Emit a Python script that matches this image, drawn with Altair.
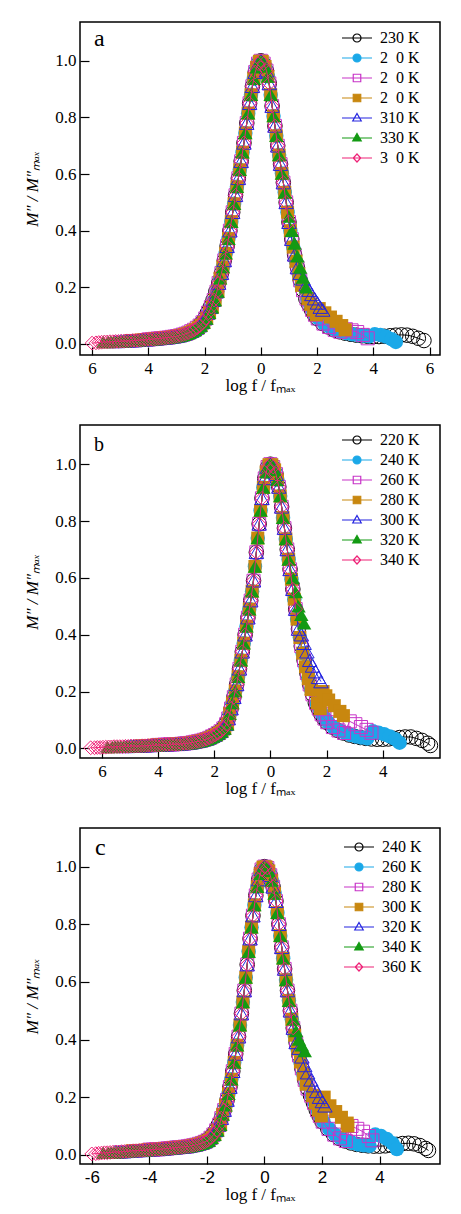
import altair as alt
import pandas as pd

# ---------------- shared grids (log f / f_max) ----------------
LEFT_X = [-6.4, -6.3, -6.2, -6.1, -6.0, -5.9, -5.8, -5.7, -5.6, -5.5, -5.4, -5.3,
          -5.2, -5.1, -5.0, -4.9, -4.8, -4.7, -4.6, -4.5, -4.4, -4.3, -4.2, -4.1,
          -4.0, -3.9, -3.8, -3.7, -3.6, -3.5, -3.4, -3.3, -3.2, -3.1, -3.0, -2.9,
          -2.8, -2.7, -2.6, -2.5, -2.4, -2.3, -2.2, -2.1,
          -2.0, -1.9, -1.8, -1.7, -1.6,
          -1.5, -1.45, -1.4, -1.35, -1.3, -1.25, -1.2, -1.15, -1.1, -1.05, -1.0,
          -0.95, -0.9, -0.85, -0.8, -0.75, -0.7, -0.65, -0.6, -0.55, -0.5,
          -0.45, -0.4, -0.35, -0.3, -0.25, -0.2, -0.15, -0.1, -0.05, 0.0]
RIGHT_X = [0.05, 0.1, 0.15, 0.2, 0.25, 0.3, 0.35, 0.4, 0.45, 0.5,
           0.55, 0.6, 0.65, 0.7, 0.75, 0.8, 0.85, 0.9, 0.95, 1.0,
           1.05, 1.1, 1.15, 1.2, 1.25, 1.3, 1.35, 1.4, 1.45, 1.5,
           1.6, 1.7, 1.8, 1.9, 2.0,
           2.2, 2.4, 2.6, 2.8, 3.0, 3.2, 3.4, 3.6, 3.8, 4.0,
           4.2, 4.4, 4.6, 4.8, 5.0, 5.2, 5.4, 5.6, 5.8]
FINE_LIMIT = 1.5      # within |x| <= 1.5 the temperatures alternate between grid points
X_SHIFT = [0.0, 0.05, 0.025, 0.075, 0.0125, 0.0625, 0.0375]

# ---------------- panel a ----------------
A_KEYS = ["230 K", "250 K", "270 K", "290 K", "310 K", "330 K", "350 K"]
A_SHOWN = ["230 K", "2\u20070 K", "2\u20070 K", "2\u20070 K", "310 K", "330 K", "3\u20070 K"]
A_LEFT_Y = [0.002, 0.002, 0.002, 0.003, 0.003, 0.004, 0.005, 0.006, 0.007, 0.007, 0.008, 0.008,
            0.009, 0.009, 0.010, 0.010, 0.011, 0.011, 0.012, 0.012, 0.013, 0.014, 0.015, 0.015,
            0.016, 0.017, 0.018, 0.019, 0.020, 0.021, 0.022, 0.023, 0.025, 0.026, 0.028, 0.030,
            0.033, 0.036, 0.040, 0.045, 0.050, 0.057, 0.065, 0.076,
            0.090, 0.110, 0.130, 0.155, 0.185,
            0.215, 0.232, 0.250, 0.272, 0.295, 0.320, 0.345, 0.372, 0.400, 0.432, 0.465,
            0.495, 0.525, 0.555, 0.585, 0.615, 0.645, 0.677, 0.710, 0.745, 0.780,
            0.815, 0.850, 0.880, 0.910, 0.937, 0.960, 0.977, 0.990, 0.998, 1.000]
A_RIGHT_Y = [0.998, 0.990, 0.980, 0.965, 0.945, 0.920, 0.880, 0.840, 0.805, 0.770,
             0.735, 0.700, 0.667, 0.635, 0.602, 0.570, 0.535, 0.500, 0.465, 0.430,
             0.400, 0.370, 0.342, 0.315, 0.292, 0.270, 0.247, 0.225, 0.207, 0.190,
             0.160, 0.140, 0.120, 0.103, 0.090,
             0.072, 0.060, 0.050, 0.043, 0.038, 0.034, 0.031, 0.029, 0.027, 0.026,
             0.026, 0.027, 0.029, 0.031, 0.032, 0.031, 0.027, 0.020, 0.012]
A_START = [-2.2, -3.2, -4.0, -4.6, -5.2, -5.6, -6.0]
A_CUT = [5.8, 3.8, 2.8, 1.9, 1.3, 0.9, 1.0]
A_TAIL_X = [[], [4.0, 4.2, 4.4, 4.6, 4.8], [3.0, 3.2, 3.4, 3.6, 3.8],
            [2.0, 2.2, 2.4, 2.6, 2.8, 3.0],
            [1.4, 1.5, 1.6, 1.7, 1.8, 1.9, 2.0, 2.1, 2.2],
            [1.0, 1.1, 1.2, 1.3, 1.4, 1.5, 1.6], []]
A_TAIL_Y = [[], [0.034, 0.032, 0.026, 0.017, 0.007], [0.052, 0.048, 0.042, 0.032, 0.020],
            [0.125, 0.110, 0.095, 0.080, 0.065, 0.050],
            [0.250, 0.230, 0.210, 0.190, 0.175, 0.160, 0.145, 0.130, 0.120],
            [0.450, 0.400, 0.355, 0.310, 0.270, 0.235, 0.200], []]

# ---------------- panel b ----------------
B_KEYS = ["220 K", "240 K", "260 K", "280 K", "300 K", "320 K", "340 K"]
B_SHOWN = ["220 K", "240 K", "260 K", "280 K", "300 K", "320 K", "340 K"]
B_LEFT_Y = [0.002, 0.002, 0.003, 0.003, 0.004, 0.004, 0.005, 0.005, 0.006, 0.006, 0.006, 0.006,
            0.007, 0.007, 0.008, 0.008, 0.008, 0.008, 0.009, 0.009, 0.010, 0.010, 0.011, 0.011,
            0.012, 0.012, 0.013, 0.013, 0.014, 0.014, 0.015, 0.015, 0.016, 0.017, 0.018, 0.019,
            0.021, 0.023, 0.025, 0.027, 0.030, 0.033, 0.037, 0.042,
            0.047, 0.053, 0.060, 0.070, 0.085,
            0.105, 0.122, 0.140, 0.160, 0.180, 0.202, 0.225, 0.252, 0.280, 0.310, 0.340,
            0.370, 0.400, 0.430, 0.460, 0.490, 0.520, 0.553, 0.590, 0.640, 0.690,
            0.740, 0.790, 0.837, 0.880, 0.918, 0.950, 0.973, 0.990, 0.998, 1.000]
B_RIGHT_Y = [0.998, 0.990, 0.980, 0.965, 0.945, 0.920, 0.888, 0.850, 0.812, 0.775,
             0.737, 0.700, 0.665, 0.630, 0.595, 0.560, 0.525, 0.490, 0.455, 0.420,
             0.390, 0.360, 0.335, 0.310, 0.287, 0.265, 0.245, 0.225, 0.207, 0.190,
             0.160, 0.140, 0.120, 0.105, 0.092,
             0.075, 0.063, 0.054, 0.047, 0.042, 0.038, 0.035, 0.033, 0.032, 0.032,
             0.033, 0.035, 0.038, 0.040, 0.040, 0.035, 0.028, 0.018, 0.010]
B_START = [-2.2, -3.2, -4.0, -4.6, -5.2, -5.8, -6.4]
B_CUT = [5.6, 3.4, 2.6, 1.7, 1.0, 0.7, 0.9]
B_TAIL_X = [[5.7], [3.6, 3.8, 4.0, 4.2, 4.4, 4.6], [2.8, 3.0, 3.2, 3.4, 3.6],
            [1.8, 1.9, 2.0, 2.2, 2.4, 2.6],
            [1.1, 1.2, 1.3, 1.4, 1.5, 1.6, 1.7, 1.8],
            [0.8, 0.9, 1.0, 1.1, 1.2], []]
B_TAIL_Y = [[0.010], [0.060, 0.055, 0.050, 0.042, 0.032, 0.020], [0.095, 0.085, 0.075, 0.065, 0.055],
            [0.200, 0.185, 0.170, 0.150, 0.130, 0.115],
            [0.400, 0.370, 0.340, 0.310, 0.290, 0.270, 0.250, 0.235],
            [0.600, 0.550, 0.500, 0.470, 0.440], []]

# ---------------- panel c ----------------
C_KEYS = ["240 K", "260 K", "280 K", "300 K", "320 K", "340 K", "360 K"]
C_SHOWN = ["240 K", "260 K", "280 K", "300 K", "320 K", "340 K", "360 K"]
C_LEFT_Y = [0.002, 0.002, 0.002, 0.003, 0.003, 0.004, 0.005, 0.006, 0.007, 0.007, 0.008, 0.009,
            0.010, 0.010, 0.011, 0.011, 0.012, 0.013, 0.014, 0.014, 0.015, 0.015, 0.016, 0.017,
            0.018, 0.018, 0.019, 0.019, 0.020, 0.021, 0.022, 0.023, 0.024, 0.025, 0.026, 0.027,
            0.028, 0.029, 0.031, 0.033, 0.035, 0.038, 0.041, 0.045,
            0.050, 0.059, 0.070, 0.085, 0.104,
            0.127, 0.140, 0.155, 0.172, 0.190, 0.212, 0.235, 0.262, 0.290, 0.320, 0.350,
            0.380, 0.410, 0.450, 0.490, 0.530, 0.570, 0.615, 0.660, 0.705, 0.750,
            0.790, 0.830, 0.867, 0.900, 0.930, 0.955, 0.975, 0.990, 0.998, 1.000]
C_RIGHT_Y = [0.999, 0.995, 0.985, 0.970, 0.952, 0.930, 0.907, 0.880, 0.840, 0.800,
             0.760, 0.720, 0.682, 0.645, 0.607, 0.570, 0.535, 0.500, 0.470, 0.440,
             0.415, 0.390, 0.367, 0.345, 0.322, 0.300, 0.280, 0.260, 0.245, 0.230,
             0.205, 0.180, 0.155, 0.135, 0.115,
             0.090, 0.070, 0.057, 0.048, 0.041, 0.036, 0.033, 0.031, 0.030, 0.030,
             0.031, 0.033, 0.036, 0.039, 0.040, 0.038, 0.032, 0.022, 0.015]
C_START = [-2.2, -3.2, -4.0, -4.6, -5.2, -5.6, -6.0]
C_CUT = [5.6, 3.6, 2.8, 1.9, 1.1, 0.9, 1.0]
C_TAIL_X = [[5.7], [3.8, 4.0, 4.2, 4.4, 4.6], [3.0, 3.2, 3.4, 3.6, 3.75],
            [2.0, 2.2, 2.4, 2.6, 2.8, 2.9],
            [1.2, 1.3, 1.4, 1.5, 1.6, 1.7, 1.8, 1.9, 2.0, 2.1],
            [1.0, 1.1, 1.2, 1.3, 1.4], []]
C_TAIL_Y = [[0.015], [0.070, 0.065, 0.055, 0.040, 0.020], [0.100, 0.090, 0.080, 0.065, 0.050],
            [0.200, 0.170, 0.150, 0.130, 0.110, 0.100],
            [0.370, 0.340, 0.310, 0.285, 0.260, 0.240, 0.220, 0.200, 0.185, 0.170],
            [0.470, 0.430, 0.400, 0.380, 0.360], []]

for arr in (A_LEFT_Y, B_LEFT_Y, C_LEFT_Y):
    assert len(arr) == len(LEFT_X), len(arr)
for arr in (A_RIGHT_Y, B_RIGHT_Y, C_RIGHT_Y):
    assert len(arr) == len(RIGHT_X), len(arr)

# ---------------- styles ----------------
COLORS = ["#000000", "#1AA8E8", "#C834C8", "#C8870F", "#2424E0", "#139A13", "#EE2277"]
SHAPES = ["circle", "circle", "square", "square", "triangle-up", "triangle-up", "diamond"]
FILLED = [False, True, False, True, False, True, False]
SIZES = [210, 210, 170, 170, 210, 210, 190]
LINE = "M-3,0H3"
LEG_PATHS = [
    LINE + "M0.8,0A0.8,0.8,0,1,1,-0.8,0A0.8,0.8,0,1,1,0.8,0Z",
    LINE + "M0.8,0A0.8,0.8,0,1,1,-0.8,0A0.8,0.8,0,1,1,0.8,0Z",
    LINE + "M-0.75,-0.75H0.75V0.75H-0.75Z",
    LINE + "M-0.75,-0.75H0.75V0.75H-0.75Z",
    LINE + "M0,-0.9L0.85,0.6H-0.85Z",
    LINE + "M0,-0.9L0.85,0.6H-0.85Z",
    LINE + "M0,-0.8L0.75,0L0,0.8L-0.75,0Z",
]
LEG_FILLS = [COLORS[i] if FILLED[i] else "transparent" for i in range(7)]
SERIF = "Liberation Serif"


def keep(x, i):
    if abs(x) <= FINE_LIMIT + 1e-9:
        return round(x / 0.05) % 2 == i % 2
    return True


def build_df(keys, left_y, right_y, start, cut, tail_x, tail_y):
    rows = []
    for i, k in enumerate(keys):
        pts = []
        for x, y in zip(LEFT_X, left_y):
            if x >= start[i] - 1e-9 and keep(x, i):
                pts.append((x, y))
        for x, y in zip(RIGHT_X, right_y):
            if x <= cut[i] + 1e-9 and keep(x, i):
                pts.append((x, y))
        pts += list(zip(tail_x[i], tail_y[i]))
        for j, (x, y) in enumerate(pts):
            sx = x + X_SHIFT[i] if 0 < j < len(pts) - 1 and abs(x) > FINE_LIMIT else x
            rows.append((k, sx, y))
    return pd.DataFrame(rows, columns=["T", "x", "y"])


def label_expr(keys, shown):
    expr = "datum.label"
    for k, s in zip(keys, shown):
        if k != s:
            expr = f"datum.label == '{k}' ? '{s}' : ({expr})"
    return expr


def panel(df, keys, shown, xdom, ydom, h, xvals, xlabexpr, xfont, letter, leg_xy, let_xy, let_size):
    X = alt.X("x:Q", scale=alt.Scale(domain=xdom, nice=False, zero=False),
              axis=alt.Axis(values=xvals, labelExpr=xlabexpr, title="log f / fₘₐₓ",
                            offset=-8, tickSize=8, domain=False, grid=False,
                            labelFont=xfont, labelFontSize=17, labelPadding=5,
                            titleFont=SERIF, titleFontSize=17, titleFontWeight="normal",
                            titlePadding=1, tickColor="black", tickWidth=1.2,
                            labelColor="black", titleColor="black", labelFlush=False))
    Y = alt.Y("y:Q", scale=alt.Scale(domain=ydom, nice=False, zero=False),
              axis=alt.Axis(values=[0, 0.2, 0.4, 0.6, 0.8, 1.0], format=".1f",
                            title="M″ / M″ₘₐₓ", offset=-9, tickSize=9, domain=False, grid=False,
                            labelFont=SERIF, labelFontSize=17, labelPadding=4,
                            titleFont=SERIF, titleFontSize=17, titleFontWeight="normal",
                            titleFontStyle="italic", titlePadding=13,
                            tickColor="black", tickWidth=1.2,
                            labelColor="black", titleColor="black", labelFlush=False))
    layers = []
    for i, k in enumerate(keys):
        base = alt.Chart(df).transform_filter(alt.datum.T == k)
        layers.append(base.mark_line(color=COLORS[i], strokeWidth=1).encode(x=X, y=Y, order="x:Q"))
        layers.append(base.mark_point(shape=SHAPES[i], filled=FILLED[i], color=COLORS[i],
                                      size=SIZES[i], strokeWidth=1, opacity=1).encode(x=X, y=Y))
    leg = alt.Legend(orient="none", legendX=leg_xy[0], legendY=leg_xy[1], title=None,
                     labelFont=SERIF, labelFontSize=16, labelColor="black",
                     symbolSize=100, symbolStrokeWidth=1.2, symbolOpacity=1,
                     labelOffset=15, rowPadding=4, padding=0,
                     labelExpr=label_expr(keys, shown))
    legdf = pd.DataFrame({"T": keys})
    legend_layer = alt.Chart(legdf).transform_filter("false").mark_point(opacity=1).encode(
        shape=alt.Shape("T:N", scale=alt.Scale(domain=keys, range=LEG_PATHS), legend=leg),
        stroke=alt.Stroke("T:N", scale=alt.Scale(domain=keys, range=COLORS), legend=leg),
        fill=alt.Fill("T:N", scale=alt.Scale(domain=keys, range=LEG_FILLS), legend=leg),
    )
    txt = alt.Chart(pd.DataFrame({"t": [letter]})).mark_text(
        font=SERIF, fontSize=let_size, align="left", baseline="alphabetic", color="black"
    ).encode(x=alt.value(let_xy[0]), y=alt.value(let_xy[1]), text="t:N")
    return alt.layer(*layers, legend_layer, txt).properties(width=360, height=h)


dfa = build_df(A_KEYS, A_LEFT_Y, A_RIGHT_Y, A_START, A_CUT, A_TAIL_X, A_TAIL_Y)
dfb = build_df(B_KEYS, B_LEFT_Y, B_RIGHT_Y, B_START, B_CUT, B_TAIL_X, B_TAIL_Y)
dfc = build_df(C_KEYS, C_LEFT_Y, C_RIGHT_Y, C_START, C_CUT, C_TAIL_X, C_TAIL_Y)

ABS = "format(abs(datum.value), 'd')"
SIGNED = "'' + datum.value"

pa = panel(dfa, A_KEYS, A_SHOWN, [-6.43, 6.37], [-0.039, 1.137], 333,
           [-6, -4, -2, 0, 2, 4, 6], ABS, SERIF, "a", (269, 8), (14, 24), 24)
pb = panel(dfb, B_KEYS, B_SHOWN, [-6.78, 6.04], [-0.034, 1.138], 333,
           [-6, -4, -2, 0, 2, 4], ABS, SERIF, "b", (269, 7), (14, 26), 20)
pc = panel(dfc, C_KEYS, C_SHOWN, [-6.41, 6.10], [-0.032, 1.134], 336,
           [-6, -4, -2, 0, 2, 4], SIGNED, "Liberation Sans", "c", (271, 11), (15, 27), 24)

chart = alt.vconcat(pa, pb, pc, spacing=30).resolve_scale(
    shape="independent", stroke="independent", fill="independent"
).resolve_legend(
    shape="independent", stroke="independent", fill="independent"
).properties(
    padding={"left": 23, "top": 21, "right": 5, "bottom": 5}
).configure_view(stroke="black", strokeWidth=1.5)

chart.save("out.html", embed_options={"renderer": "svg", "actions": False})
